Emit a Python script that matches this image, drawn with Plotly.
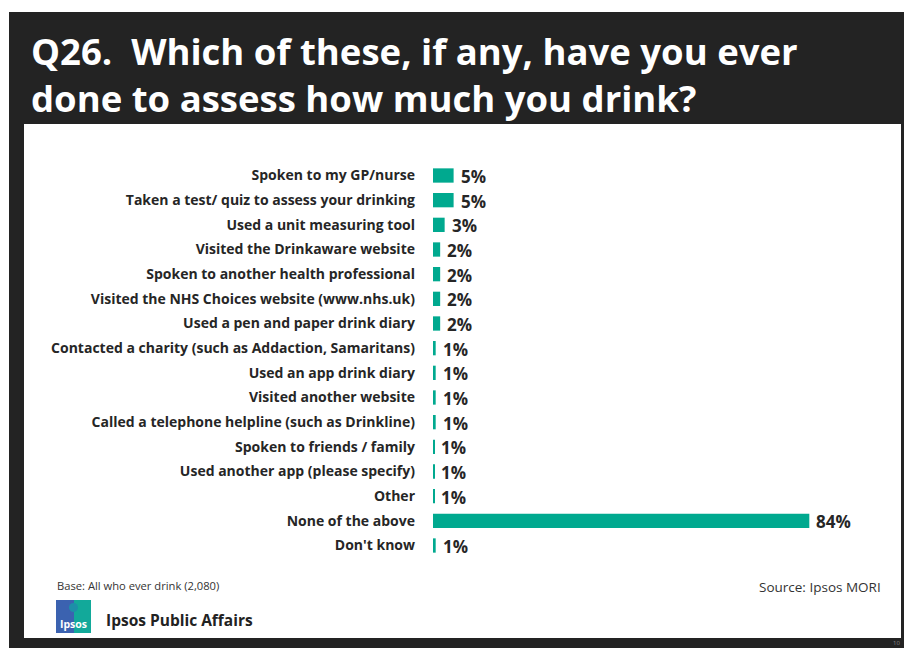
import plotly.graph_objects as go

categories = [
    "Spoken to my GP/nurse",
    "Taken a test/ quiz to assess your drinking",
    "Used a unit measuring tool",
    "Visited the Drinkaware website",
    "Spoken to another health professional",
    "Visited the NHS Choices website (www.nhs.uk)",
    "Used a pen and paper drink diary",
    "Contacted a charity (such as Addaction, Samaritans)",
    "Used an app drink diary",
    "Visited another website",
    "Called a telephone helpline (such as Drinkline)",
    "Spoken to friends / family",
    "Used another app (please specify)",
    "Other",
    "None of the above",
    "Don't know",
]
values = [4.6, 4.6, 2.6, 1.6, 1.6, 1.6, 1.6, 0.6, 0.6, 0.6, 0.6, 0.25, 0.25, 0.25, 84, 0.6]
value_labels = ["5%", "5%", "3%", "2%", "2%", "2%", "2%", "1%", "1%", "1%",
                "1%", "1%", "1%", "1%", "84%", "1%"]

title_lines = ["Q26.\u00a0 Which of these, if any, have you ever",
               "done to assess how much you drink?"]
base_note = "Base: All who ever drink (2,080)"
source_note = "Source: Ipsos MORI"
brand = "Ipsos Public Affairs"

W, H = 904, 648
PL, PR, PT, PB = 433, 881, 161, 558


def px(x):
    return (x - PL) / (PR - PL)


def py(y):
    return (PB - y) / (PB - PT)


FONT = "Open Sans"
TEAL = "#00A98F"

fig = go.Figure()
fig.add_trace(go.Bar(
    y=categories, x=values, orientation="h",
    marker=dict(color=TEAL, line=dict(width=0)),
    hoverinfo="skip",
))

annotations = []
for c, v, t in zip(categories, values, value_labels):
    annotations.append(dict(
        x=v, y=c, xref="x", yref="y", text=t, showarrow=False,
        xanchor="left", yanchor="middle", xshift=5, yshift=-1,
        font=dict(family=FONT, size=17, color="#262626", weight="bold"),
    ))

# Title
annotations.append(dict(
    x=px(29), y=py(24), xref="paper", yref="paper",
    text="<br>".join(title_lines), showarrow=False, align="left",
    xanchor="left", yanchor="top",
    font=dict(family=FONT, size=36.5, color="white", weight="bold"),
))
annotations.append(dict(
    x=px(55), y=py(585), xref="paper", yref="paper", text=base_note,
    showarrow=False, xanchor="left", yanchor="middle",
    font=dict(family=FONT, size=11.2, color="#333333"),
))
annotations.append(dict(
    x=px(883), y=py(587), xref="paper", yref="paper", text=source_note,
    showarrow=False, xanchor="right", yanchor="middle",
    font=dict(family=FONT, size=13.5, color="#333333"),
))
annotations.append(dict(
    x=px(104), y=py(620), xref="paper", yref="paper", text=brand,
    showarrow=False, xanchor="left", yanchor="middle",
    font=dict(family=FONT, size=15.5, color="#222222", weight="bold"),
))
annotations.append(dict(
    x=px(73), y=py(624), xref="paper", yref="paper", text="Ipsos",
    showarrow=False, xanchor="center", yanchor="middle",
    font=dict(family=FONT, size=10.5, color="white", weight="bold"),
))
annotations.append(dict(
    x=px(902), y=py(643), xref="paper", yref="paper", text="10",
    showarrow=False, xanchor="right", yanchor="middle",
    font=dict(family=FONT, size=6, color="#888888"),
))

shapes = [
    dict(type="rect", xref="paper", yref="paper", layer="below",
         x0=px(9), x1=px(904), y0=py(12), y1=py(648),
         fillcolor="#232323", line=dict(width=0)),
    dict(type="rect", xref="paper", yref="paper", layer="below",
         x0=px(24), x1=px(901), y0=py(124), y1=py(638),
         fillcolor="white", line=dict(width=0)),
    # logo
    dict(type="rect", xref="paper", yref="paper", layer="below",
         x0=px(56), x1=px(74), y0=py(600), y1=py(633),
         fillcolor="#3B62B0", line=dict(width=0)),
    dict(type="rect", xref="paper", yref="paper", layer="below",
         x0=px(74), x1=px(91), y0=py(600), y1=py(633),
         fillcolor="#12A99A", line=dict(width=0)),
    dict(type="circle", xref="paper", yref="paper", layer="below",
         x0=px(69), x1=px(78), y0=py(603), y1=py(612),
         fillcolor="#1D8FA8", line=dict(width=0)),
]

fig.update_layout(
    width=W, height=H,
    margin=dict(l=PL, r=W - PR, t=PT, b=H - PB, pad=0),
    paper_bgcolor="white", plot_bgcolor="rgba(0,0,0,0)",
    showlegend=False, bargap=0.42,
    xaxis=dict(range=[0, 100], visible=False, fixedrange=True),
    yaxis=dict(autorange="reversed", showgrid=False, zeroline=False,
               showline=False, ticks="", ticklabelstandoff=17, fixedrange=True,
               tickfont=dict(family=FONT, size=14, color="#262626", weight="bold")),
    annotations=annotations, shapes=shapes,
)

fig.write_html(
    "out.html",
    config={"displayModeBar": False},
    post_script="document.body.style.margin='0';document.body.style.overflow='hidden';",
)
